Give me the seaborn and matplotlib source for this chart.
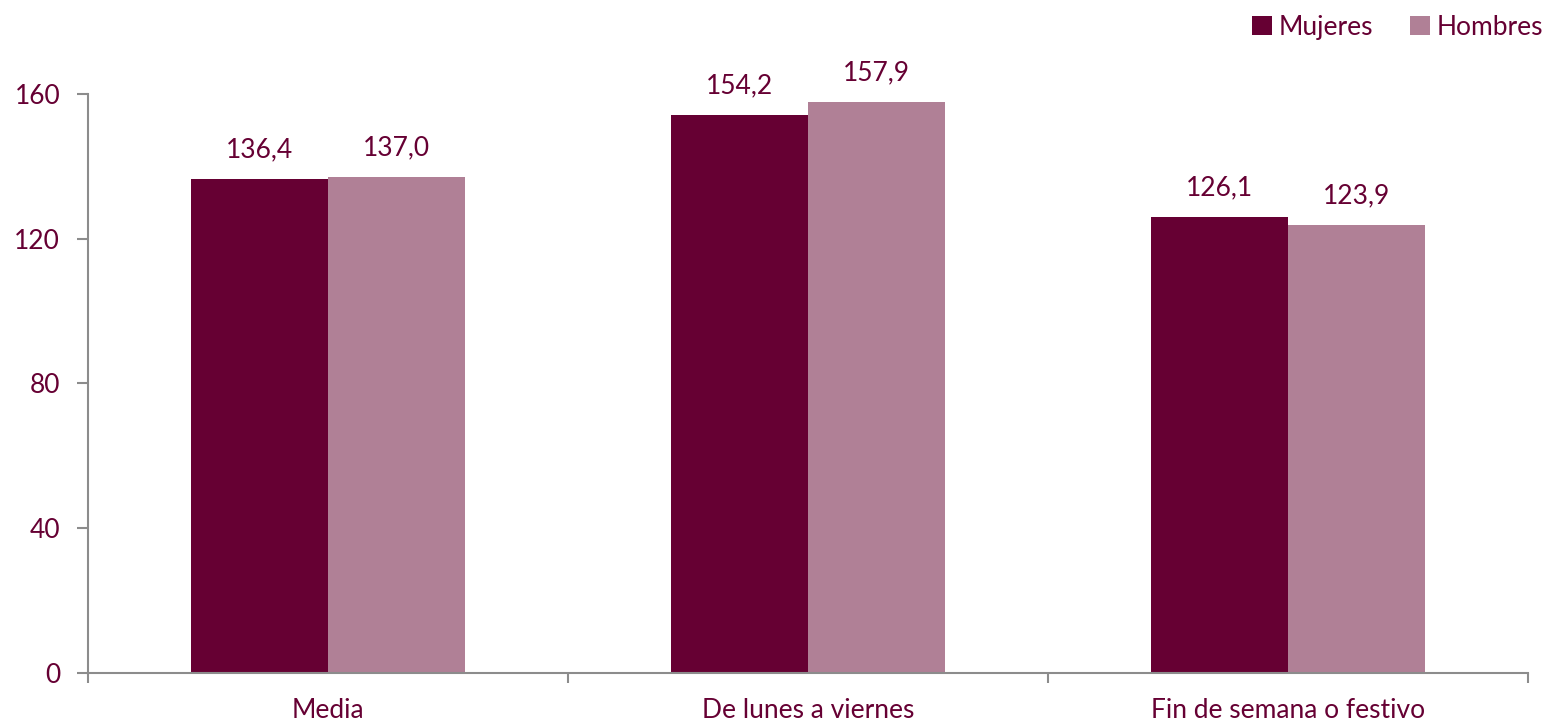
import numpy as np
import pandas as pd
import matplotlib
matplotlib.use("Agg")
import matplotlib.pyplot as plt
import seaborn as sns

categorias = ["Media", "De lunes a viernes", "Fin de semana o festivo"]
mujeres = [136.4, 154.2, 126.1]
hombres = [137.0, 157.9, 123.9]
series = ["Mujeres", "Hombres"]
colores = ["#660033", "#B08096"]
texto = "#660033"

df = pd.DataFrame({
    "categoria": categorias * 2,
    "valor": mujeres + hombres,
    "sexo": ["Mujeres"] * 3 + ["Hombres"] * 3,
})

sns.set_style("white", {"xtick.bottom": True, "ytick.left": True})
plt.rcParams["font.family"] = ["Lato", "DejaVu Sans"]

fig = plt.figure(figsize=(15.47, 7.23), dpi=100)
ax = fig.add_axes([0.0569, 0.0692, 0.9308, 0.8008])

sns.barplot(data=df, x="categoria", y="valor", hue="sexo", hue_order=series,
            palette=colores, width=0.57, gap=0, saturation=1, linewidth=0, ax=ax)

# etiquetas de datos
for cont in ax.containers:
    ax.bar_label(cont, labels=[f"{v:.1f}".replace(".", ",") for v in cont.datavalues],
                 padding=12, fontsize=19, color=texto)

ax.set_ylim(0, 160)
ax.set_xlim(-0.5, 2.5)
ax.set_yticks([0, 40, 80, 120, 160])
ax.set_xlabel("")
ax.set_ylabel("")

# marcas del eje x entre categorias
ax.set_xticks([-0.5, 0.5, 1.5, 2.5], minor=True)
ax.tick_params(axis="x", which="minor", bottom=True, length=7, width=1.5, color="#8c8c8c", direction="out")
ax.tick_params(axis="x", which="major", length=0, pad=18, labelsize=19, labelcolor=texto)
ax.tick_params(axis="y", left=True, length=8, width=1.5, color="#8c8c8c", direction="out",
               pad=12, labelsize=19, labelcolor=texto)

for s in ["top", "right"]:
    ax.spines[s].set_visible(False)
for s in ["left", "bottom"]:
    ax.spines[s].set_color("#8c8c8c")
    ax.spines[s].set_linewidth(1.5)

leg = ax.legend(loc="upper right", bbox_to_anchor=(1.027, 1.178), ncol=2, frameon=False,
                fontsize=19, handlelength=0.75, handleheight=0.75, handletextpad=0.25,
                columnspacing=1.4)
for t in leg.get_texts():
    t.set_color(texto)

plt.savefig("out.png", dpi=100)
